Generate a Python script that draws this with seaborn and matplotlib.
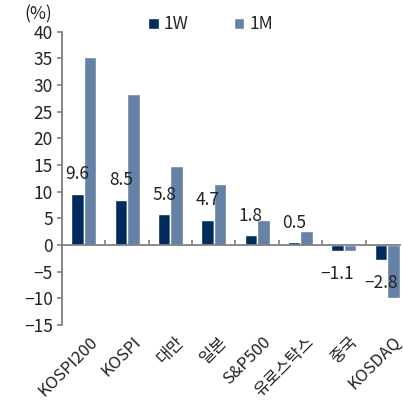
import pandas as pd
import matplotlib
matplotlib.use("Agg")
import matplotlib.pyplot as plt
import seaborn as sns

# 지수별 수익률 (%)
categories = ['KOSPI200', 'KOSPI', '대만', '일본', 'S&P500', '유로스탁스', '중국', 'KOSDAQ']
ret_1w = [9.6, 8.5, 5.8, 4.7, 1.8, 0.5, -1.1, -2.8]
ret_1m = [35.3, 28.4, 14.9, 11.4, 4.7, 2.7, -1.1, -9.9]
y_ticks = [-15, -10, -5, 0, 5, 10, 15, 20, 25, 30, 35, 40]

sns.set_style("white")
plt.rcParams['font.family'] = ['Noto Sans CJK KR', 'DejaVu Sans']
FS = 12.5
TXT = '#222222'

df = pd.DataFrame({
    '지수': categories * 2,
    '기간': ['1W'] * len(categories) + ['1M'] * len(categories),
    '수익률': ret_1w + ret_1m,
})

fig = plt.figure(figsize=(4.03, 4.03), dpi=100)
ax = fig.add_axes([0.154, 0.194, 0.839, 0.727])

sns.barplot(data=df, x='지수', y='수익률', hue='기간', order=categories,
            palette={'1W': '#002b5c', '1M': '#6581a6'}, width=0.58, gap=0,
            saturation=1, ax=ax)

ax.set_ylim(-15, 40)
ax.set_xlim(-0.5, 7.3)
ax.set_yticks(y_ticks)
ax.set_yticklabels([str(v).replace('-', '\u2212') for v in y_ticks], fontsize=FS, color=TXT)
ax.set_xlabel('')
ax.set_ylabel('')

# 축 스타일
for s in ['top', 'right']:
    ax.spines[s].set_visible(False)
ax.spines['left'].set_color('#808080')
ax.spines['left'].set_linewidth(1.3)
ax.spines['bottom'].set_position(('data', 0))
ax.spines['bottom'].set_color('#808080')
ax.spines['bottom'].set_linewidth(1.3)
ax.tick_params(axis='y', direction='out', length=3.5, width=1.2, color='#808080', left=True, pad=3)
ax.set_xticks([i + 0.5 for i in range(len(categories) - 1)], minor=True)
ax.set_xticks(range(len(categories)))
ax.tick_params(axis='x', which='major', length=0, labelbottom=False)
ax.tick_params(axis='x', which='minor', direction='in', length=3.5, width=1.2, color='#808080', bottom=True)

# 카테고리 라벨 (축 하단)
for i, c in enumerate(categories):
    ax.text(i + 0.12, -0.03, c, transform=ax.get_xaxis_transform(), rotation=45,
            ha='right', va='top', rotation_mode='anchor', fontsize=12, color=TXT)

# 1W 값 라벨
for i, v in enumerate(ret_1w):
    off = 14 if v >= 0 else -17
    ax.annotate(f'{v:.1f}'.replace('-', '\u2212'), xy=(i - 0.145, v), xytext=(0, off),
                textcoords='offset points', ha='center', va='center', fontsize=FS, color=TXT)

ax.legend(loc='upper center', bbox_to_anchor=(0.44, 1.08), ncol=2, frameon=False,
          fontsize=FS, handlelength=0.6, handleheight=0.6, handletextpad=0.3,
          columnspacing=2.6, borderaxespad=0)

fig.text(0.06, 0.965, '(%)', fontsize=FS, ha='left', va='center', color=TXT)

fig.savefig('out.png', dpi=100)
